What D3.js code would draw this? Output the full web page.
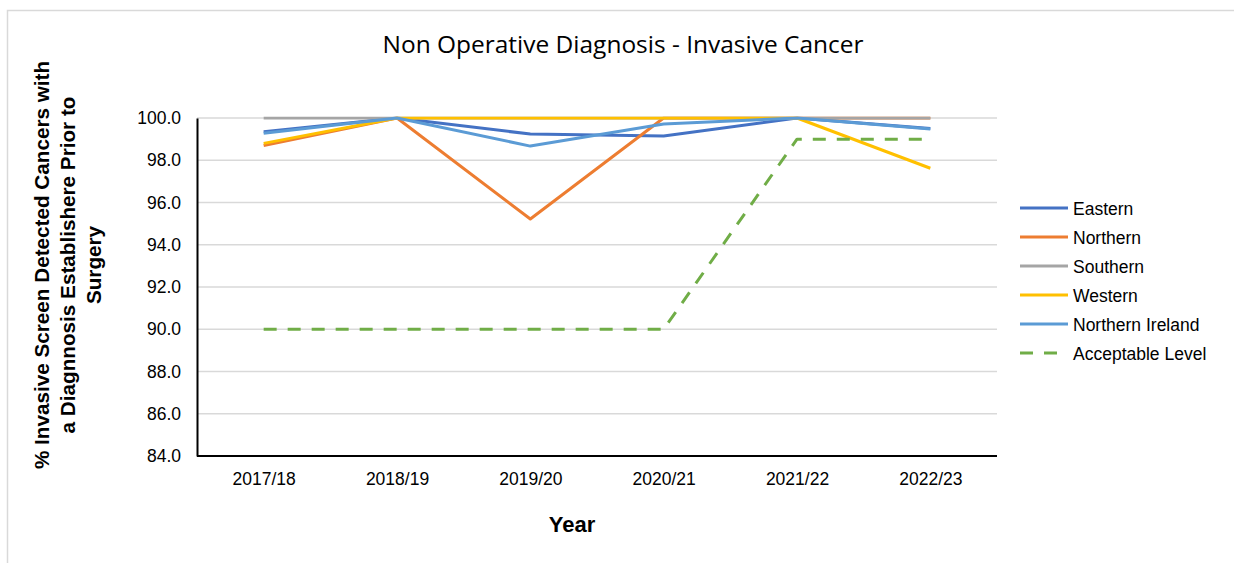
<!DOCTYPE html>
<html>
<head>
<meta charset="utf-8">
<script src="https://cdn.jsdelivr.net/npm/d3@7"></script>
<style>
  body { margin: 0; background: #fff; }
  svg { display: block; }
</style>
</head>
<body>
<div id="chart"></div>
<script>
// data
var years = ["2017/18", "2018/19", "2019/20", "2020/21", "2021/22", "2022/23"];
var seriesNames = ["Eastern", "Northern", "Southern", "Western", "Northern Ireland", "Acceptable Level"];
var eastern = [99.35, 100, 99.24, 99.15, 100, 99.5];
var northern = [98.7, 100, 95.22, 100, 100, 100];
var southern = [100, 100, 100, 100, 100, 100];
var western = [98.8, 100, 100, 100, 100, 97.62];
var northernIreland = [99.28, 100, 98.67, 99.72, 100, 99.48];
var acceptable = [90, 90, 90, 90, 99, 99];
var yTicks = [84, 86, 88, 90, 92, 94, 96, 98, 100];

function init() {
    var w = 1234;
    var h = 563;

    var colors = ["#4472C4", "#ED7D31", "#A5A5A5", "#FFC000", "#5B9BD5", "#70AD47"];
    var allSeries = [eastern, northern, southern, western, northernIreland, acceptable];
    var font = "Liberation Sans, Arial, sans-serif";

    var svg = d3.select("#chart")
        .append("svg")
        .attr("width", w)
        .attr("height", h);

    // chart frame
    svg.append("rect")
        .attr("x", 7.5)
        .attr("y", 10.5)
        .attr("width", 1240)
        .attr("height", 600)
        .attr("fill", "#fff")
        .attr("stroke", "#D9D9D9")
        .attr("stroke-width", 1.5);

    var scaleX = d3.scalePoint()
        .domain(years)
        .range([197, 997])
        .padding(0.5);

    var scaleY = d3.scaleLinear()
        .domain([84, 100])
        .range([456, 118]);

    // plot area clip, lines at 100 get cut like in the original
    svg.append("clipPath")
        .attr("id", "plotClip")
        .append("rect")
        .attr("x", 190)
        .attr("y", 116.5)
        .attr("width", 820)
        .attr("height", 345);

    // gridlines
    svg.append("g")
        .selectAll("line")
        .data(yTicks.filter(function (d) { return d > 84; }))
        .enter()
        .append("line")
        .attr("x1", 197)
        .attr("x2", 997)
        .attr("y1", function (d) { return scaleY(d); })
        .attr("y2", function (d) { return scaleY(d); })
        .attr("stroke", "#D9D9D9")
        .attr("stroke-width", 1.5);

    // y axis
    var yAxis = svg.append("g")
        .attr("transform", "translate(197,0)")
        .call(d3.axisLeft(scaleY).tickValues(yTicks).tickSize(0).tickPadding(16)
            .tickFormat(function (d) { return d3.format(".1f")(d); }));
    yAxis.select(".domain").attr("stroke", "#000").attr("stroke-width", 2);
    yAxis.selectAll("text")
        .attr("font-family", font)
        .attr("font-size", 17.5)
        .attr("fill", "#000");

    // x axis
    var xAxis = svg.append("g")
        .attr("transform", "translate(0,456)")
        .call(d3.axisBottom(scaleX).tickSize(0).tickPadding(17));
    xAxis.select(".domain").attr("stroke", "#000").attr("stroke-width", 2)
        .attr("d", "M197,0H997");
    xAxis.selectAll("text")
        .attr("font-family", font)
        .attr("font-size", 17.5)
        .attr("fill", "#000");

    // lines
    var line = d3.line()
        .x(function (d, i) { return scaleX(years[i]); })
        .y(function (d) { return scaleY(d); });

    svg.append("g")
        .attr("clip-path", "url(#plotClip)")
        .selectAll("path")
        .data(allSeries)
        .enter()
        .append("path")
        .attr("d", line)
        .attr("fill", "none")
        .attr("stroke", function (d, i) { return colors[i]; })
        .attr("stroke-width", 3)
        .attr("stroke-linejoin", "round")
        .attr("stroke-dasharray", function (d, i) { return i == 5 ? "13,11" : null; });

    // title
    svg.append("text")
        .attr("x", 623)
        .attr("y", 53)
        .attr("text-anchor", "middle")
        .attr("font-family", "Open Sans, sans-serif")
        .attr("font-size", 23)
        .attr("textLength", 481)
        .attr("lengthAdjust", "spacingAndGlyphs")
        .attr("fill", "#000")
        .text("Non Operative Diagnosis - Invasive Cancer");

    // axis titles
    svg.append("text")
        .attr("x", 572)
        .attr("y", 532)
        .attr("text-anchor", "middle")
        .attr("font-family", font)
        .attr("font-weight", "bold")
        .attr("font-size", 22)
        .attr("fill", "#000")
        .text("Year");

    var yTitle = ["% Invasive Screen Detected Cancers with", "a Diagnnosis Establishere Prior to", "Surgery"];
    svg.append("g")
        .attr("transform", "translate(49,265) rotate(-90)")
        .selectAll("text")
        .data(yTitle)
        .enter()
        .append("text")
        .attr("x", 0)
        .attr("y", function (d, i) { return i * 26; })
        .attr("text-anchor", "middle")
        .attr("font-family", font)
        .attr("font-weight", "bold")
        .attr("font-size", 20.7)
        .attr("fill", "#000")
        .text(function (d) { return d; });

    // legend
    var legend = svg.append("g")
        .selectAll("g")
        .data(seriesNames)
        .enter()
        .append("g")
        .attr("transform", function (d, i) { return "translate(1020," + (208 + i * 29) + ")"; });

    legend.append("line")
        .attr("x1", 0)
        .attr("x2", function (d, i) { return i == 5 ? 37 : 48; })
        .attr("stroke", function (d, i) { return colors[i]; })
        .attr("stroke-width", 3)
        .attr("stroke-dasharray", function (d, i) { return i == 5 ? "13,11" : null; });

    legend.append("text")
        .attr("x", 53)
        .attr("y", 6.5)
        .attr("font-family", font)
        .attr("font-size", 17.5)
        .attr("fill", "#000")
        .text(function (d) { return d; });
}

window.onload = init;
</script>
</body>
</html>
